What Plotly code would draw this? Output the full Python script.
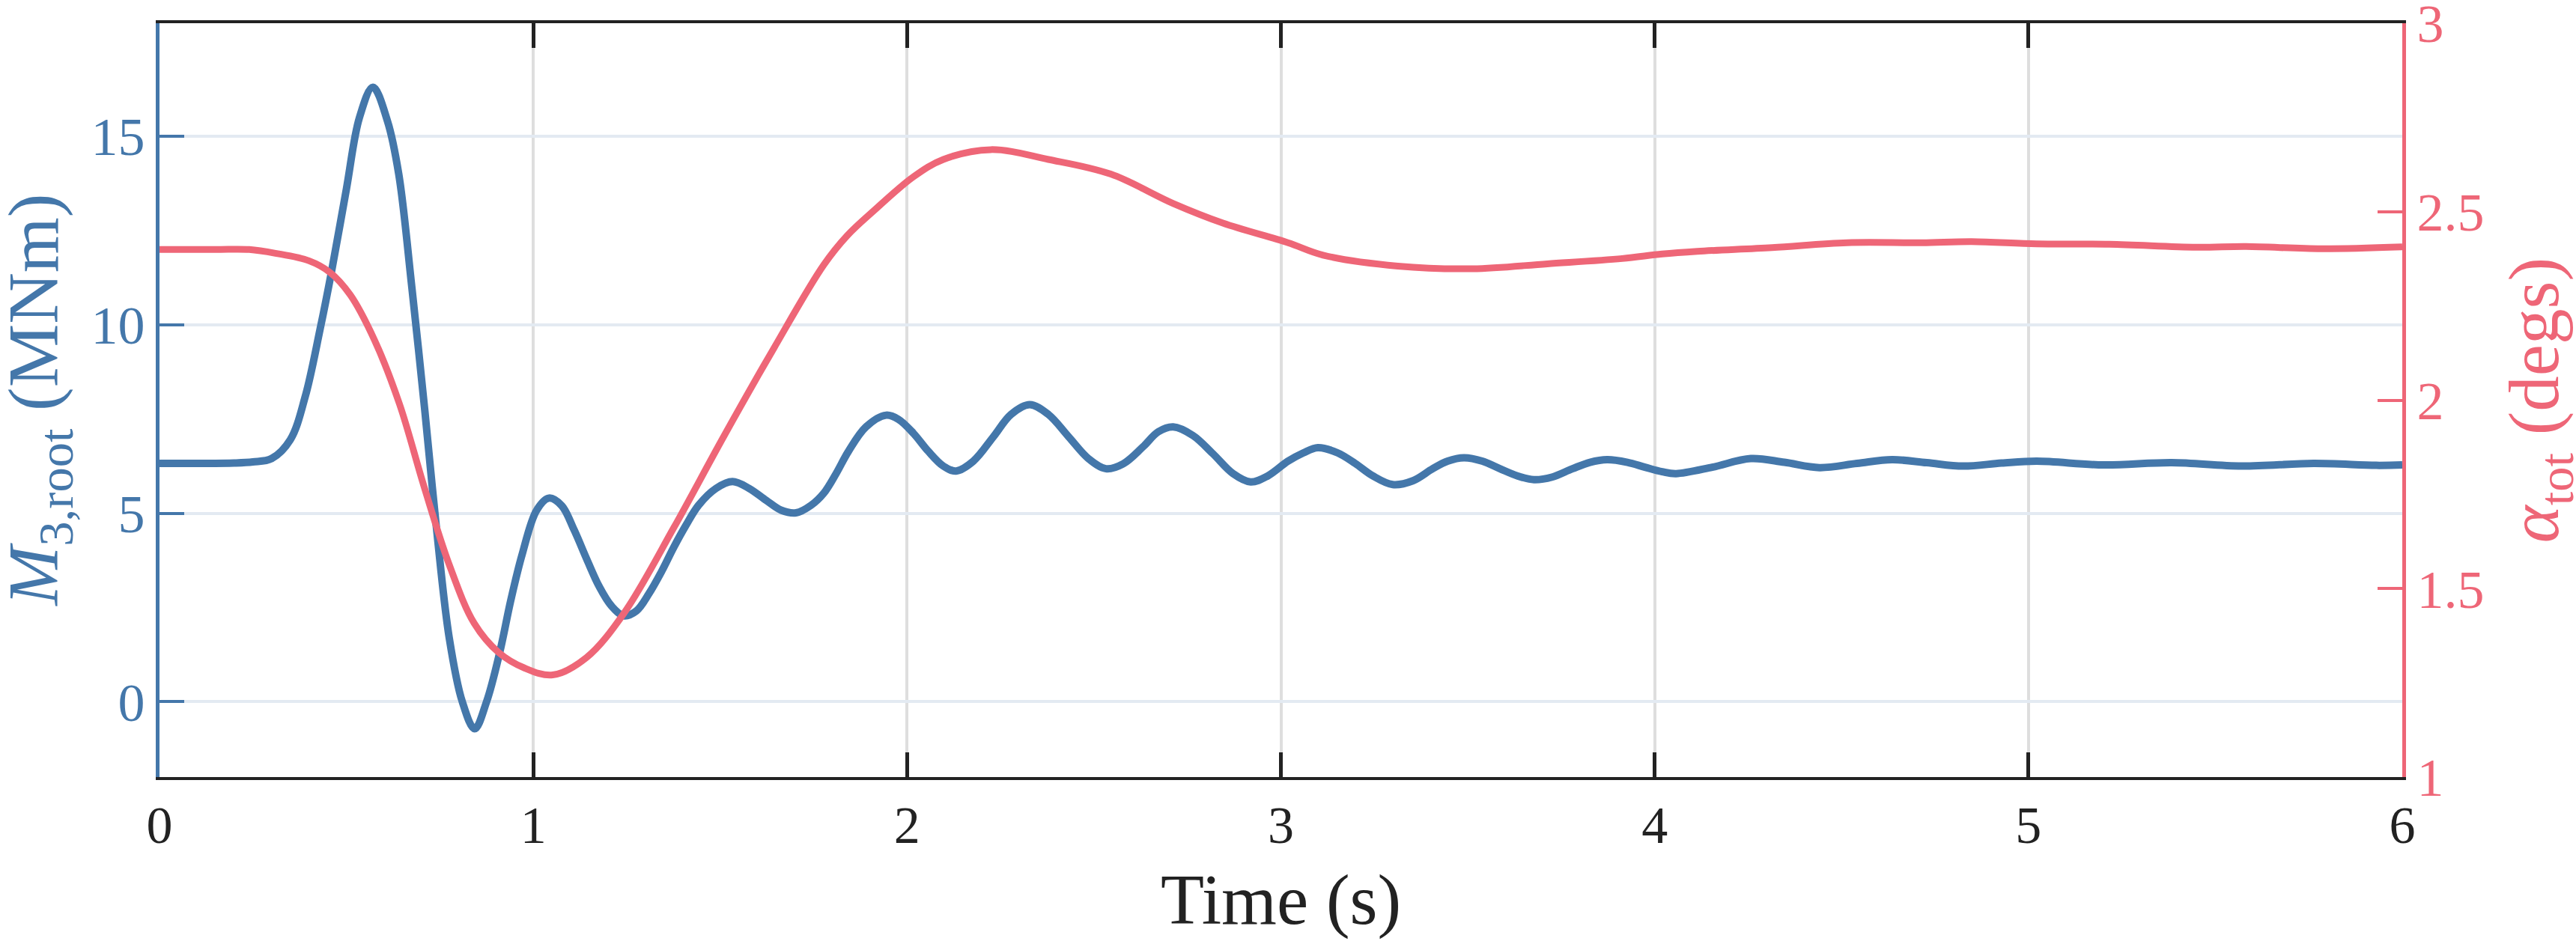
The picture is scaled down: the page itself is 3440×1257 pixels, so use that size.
import plotly.graph_objects as go

# ---- data ----
t_m3 = [0.00, 0.10, 0.20, 0.25, 0.30, 0.35, 0.39, 0.43, 0.46, 0.50, 0.535, 0.571,
        0.61, 0.64, 0.675, 0.71, 0.74, 0.775, 0.81, 0.843, 0.875, 0.91, 0.94, 0.97,
        1.009, 1.042, 1.076, 1.109, 1.143, 1.176, 1.209, 1.242, 1.276, 1.309, 1.343,
        1.376, 1.409, 1.442, 1.489, 1.533, 1.577, 1.623, 1.663, 1.703, 1.743, 1.777,
        1.810, 1.843, 1.890, 1.944, 1.977, 2.017, 2.057, 2.097, 2.131, 2.177, 2.231,
        2.278, 2.328, 2.378, 2.432, 2.485, 2.532, 2.578, 2.632, 2.672, 2.712, 2.765,
        2.818, 2.872, 2.919, 2.965, 3.019, 3.060, 3.099, 3.152, 3.199, 3.246, 3.299,
        3.353, 3.406, 3.446, 3.490, 3.539, 3.586, 3.633, 3.677, 3.726, 3.780, 3.827,
        3.873, 3.927, 3.974, 4.020, 4.057, 4.154, 4.257, 4.347, 4.441, 4.541, 4.635,
        4.728, 4.825, 4.928, 5.022, 5.202, 5.383, 5.570, 5.763, 5.930, 6.000]
m3_root = [6.32, 6.32, 6.33, 6.36, 6.45, 6.95, 8.1, 9.9, 11.4, 13.6, 15.5, 16.3,
           15.4, 14.0, 11.0, 7.7, 4.7, 1.7, 0.0, -0.72, 0.0, 1.3, 2.7, 3.9,
           5.08, 5.40, 5.2, 4.56, 3.78, 3.06, 2.54, 2.28, 2.41, 2.86, 3.45,
           4.10, 4.69, 5.21, 5.66, 5.84, 5.66, 5.34, 5.08, 5.01, 5.21, 5.53,
           6.05, 6.64, 7.29, 7.60, 7.49, 7.12, 6.64, 6.25, 6.12, 6.38, 7.03,
           7.62, 7.88, 7.62, 7.03, 6.45, 6.18, 6.31, 6.77, 7.16, 7.29, 7.06,
           6.58, 6.05, 5.83, 5.99, 6.38, 6.60, 6.74, 6.60, 6.32, 5.99, 5.76,
           5.86, 6.18, 6.38, 6.47, 6.38, 6.18, 5.99, 5.89, 5.96, 6.18, 6.35,
           6.42, 6.35, 6.22, 6.10, 6.05, 6.22, 6.45, 6.35, 6.21, 6.32, 6.42,
           6.34, 6.25, 6.33, 6.38, 6.28, 6.34, 6.25, 6.32, 6.27, 6.28]

t_alpha = [0.00, 0.15, 0.24, 0.31, 0.40, 0.455, 0.51, 0.575, 0.642, 0.708, 0.775,
           0.842, 0.908, 0.975, 1.052, 1.142, 1.242, 1.376, 1.509, 1.643, 1.777,
           1.84, 1.91, 2.017, 2.097, 2.224, 2.378, 2.545, 2.712, 2.845, 3.019, 3.113,
           3.313, 3.513, 3.713, 3.913, 4.02, 4.114, 4.314, 4.515, 4.715, 4.848,
           5.022, 5.216, 5.449, 5.582, 5.783, 6.00]
alpha_tot = [2.40, 2.40, 2.40, 2.39, 2.37, 2.34, 2.28, 2.16, 1.99, 1.77, 1.564,
             1.408, 1.33, 1.29, 1.271, 1.317, 1.434, 1.662, 1.903, 2.137, 2.359,
             2.437, 2.502, 2.593, 2.639, 2.665, 2.639, 2.60, 2.522, 2.47, 2.418, 2.385,
             2.356, 2.349, 2.362, 2.376, 2.388, 2.395, 2.405, 2.418, 2.418, 2.421,
             2.415, 2.414, 2.406, 2.408, 2.402, 2.407]

x_ticks = [0, 1, 2, 3, 4, 5, 6]
m3_ticks = [0, 5, 10, 15]
alpha_ticks = [1, 1.5, 2, 2.5, 3]
alpha_ticklabels = ["1", "1.5", "2", "2.5", "3"]

BLUE = "#4477AA"
RED = "#EE6677"
DARK = "#222222"
FONT = "Liberation Serif"
TITLE_SIZE = 95

fig = go.Figure()
fig.add_trace(go.Scatter(x=t_m3, y=m3_root, mode="lines",
                         line=dict(color=BLUE, width=10, shape="spline", smoothing=1.0),
                         yaxis="y", showlegend=False, hoverinfo="skip"))
fig.add_trace(go.Scatter(x=t_alpha, y=alpha_tot, mode="lines",
                         line=dict(color=RED, width=9, shape="spline", smoothing=1.0),
                         yaxis="y2", showlegend=False, hoverinfo="skip"))

fig.update_layout(
    width=3440, height=1257,
    margin=dict(l=213, r=232, t=31, b=219, autoexpand=False),
    paper_bgcolor="white", plot_bgcolor="white",
    font=dict(family=FONT, color=DARK),
    xaxis=dict(range=[0, 6], tickvals=x_ticks, ticktext=[str(v) for v in x_ticks],
               showline=True, linecolor=DARK, linewidth=4, mirror="ticks",
               ticks="inside", ticklen=33, tickwidth=5, tickcolor=DARK,
               showgrid=True, gridcolor="#DEDEDE", gridwidth=4, zeroline=False,
               ticklabeloverflow="allow", automargin=False,
               tickfont=dict(family=FONT, size=70, color=DARK)),
    yaxis=dict(range=[-2, 18], tickvals=m3_ticks, ticktext=[str(v) for v in m3_ticks],
               showline=True, linecolor=BLUE, linewidth=5,
               ticks="inside", ticklen=33, tickwidth=4, tickcolor=BLUE,
               showgrid=True, gridcolor="#E3EAF2", gridwidth=4, zeroline=False,
               ticklabeloverflow="allow", automargin=False,
               tickfont=dict(family=FONT, size=72, color=BLUE)),
    yaxis2=dict(range=[1, 3.0005], tickvals=alpha_ticks, ticktext=alpha_ticklabels,
                overlaying="y", side="right",
                showline=True, linecolor=RED, linewidth=5,
                ticks="inside", ticklen=33, tickwidth=4, tickcolor=RED,
                showgrid=False, zeroline=False,
                ticklabeloverflow="allow", automargin=False,
                tickfont=dict(family=FONT, size=72, color=RED)),
    annotations=[
        dict(text="Time (s)", xref="paper", yref="paper", x=0.5, y=-0.163,
             xanchor="center", yanchor="middle", showarrow=False,
             font=dict(family=FONT, size=TITLE_SIZE, color=DARK)),
        dict(text="<i>M</i><sub>3,root</sub> (MNm)", xref="paper", yref="paper",
             x=-0.054, y=0.5, xanchor="center", yanchor="middle", textangle=-90,
             showarrow=False, font=dict(family=FONT, size=TITLE_SIZE, color=BLUE)),
        dict(text="<i>α</i><sub>tot</sub> (degs)", xref="paper", yref="paper",
             x=1.061, y=0.5, xanchor="center", yanchor="middle", textangle=-90,
             showarrow=False, font=dict(family=FONT, size=TITLE_SIZE, color=RED)),
    ],
)

fig.write_html("out.html")
